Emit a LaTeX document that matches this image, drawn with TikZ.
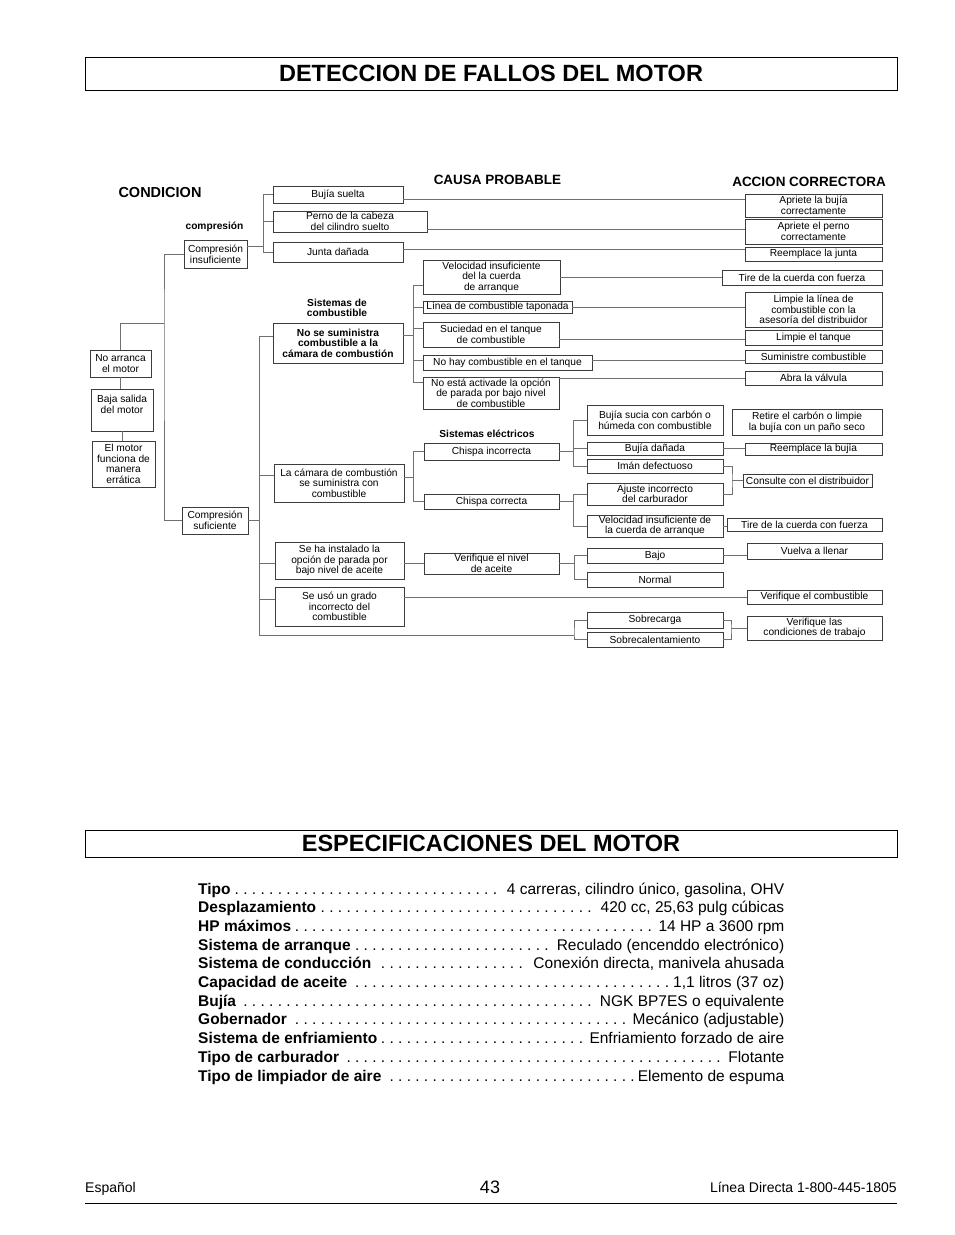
\documentclass[tikz,border=0pt]{standalone}
\usepackage{fontspec}
\setmainfont{Liberation Sans}
\definecolor{BoxLine}{HTML}{3C3C3C}
\definecolor{LinkGray}{HTML}{707070}
\newcommand{\chartfont}{\fontsize{10.2}{10.6}\selectfont}
\newcommand{\specdots}{\leaders\hbox to 8.6pt{\hss.\hss}\hfill}
\tikzset{
  cbox/.style={draw=BoxLine, line width=0.8pt, fill=white, align=center, inner sep=1pt, font=\chartfont},
  boldbox/.style={cbox, font=\chartfont\bfseries},
  link/.style={draw=LinkGray, line width=0.8pt},
  colhead/.style={font=\fontsize{13.5}{16}\selectfont\bfseries},
  grouplabel/.style={font=\chartfont\bfseries, align=center},
  titlebox/.style={draw=black, line width=1pt, minimum width=812, inner sep=0pt, font=\fontsize{23.5}{28}\selectfont\bfseries},
  specline/.style={anchor=base west, inner sep=0pt, font=\fontsize{15.5}{18.7}\selectfont},
  footer/.style={inner sep=0pt, font=\fontsize{14}{16}\selectfont}
}

\begin{document}
\begin{tikzpicture}[x=1pt,y=-1pt]
\path[use as bounding box, fill=white] (0,0) rectangle (954,1235);

% titulos
\node[titlebox, minimum height=33] (title) at (491,73.5) {DETECCION DE FALLOS DEL MOTOR};
\node[titlebox, minimum height=27] (spectitle) at (491,843.5) {ESPECIFICACIONES DEL MOTOR};

% encabezados de columna
\node[colhead, font=\fontsize{14.5}{17}\selectfont\bfseries] (hcond) at (160,193) {CONDICION};
\node[colhead] (hcausa) at (497.5,180) {CAUSA PROBABLE};
\node[colhead] (haccion) at (809,182) {ACCION CORRECTORA};
\node[grouplabel] (lcomp) at (214.5,227) {compresión};
\node[grouplabel] (lfuel) at (337,308) {Sistemas de\\combustible};
\node[grouplabel] (lelec) at (487,434) {Sistemas eléctricos};

% condiciones
\node[cbox, minimum width=61, minimum height=27] (noarr) at (120.5,363.5) {No arranca\\el motor};
\node[cbox, minimum width=62, minimum height=42,
  label={[font=\chartfont, align=center, anchor=north, yshift=-3pt]north:{Baja salida\\del motor}}] (baja) at (122,410) {};
\node[cbox, minimum width=63, minimum height=46] (errat) at (123.5,464) {El motor\\funciona de\\manera\\errática};
\node[cbox, minimum width=63, minimum height=28] (cins) at (215.5,254) {Compresión\\insuficiente};
\node[cbox, minimum width=66, minimum height=27] (csuf) at (215,520.5) {Compresión\\suficiente};

% causas, primer nivel
\node[cbox, minimum width=130, minimum height=17] (bujia) at (338,194.5) {Bujía suelta};
\node[cbox, minimum width=154, minimum height=21] (perno) at (350,221.5) {Perno de la cabeza\\del cilindro suelto};
\node[cbox, minimum width=130, minimum height=20] (junta) at (338,252) {Junta dañada};
\node[boldbox, minimum width=130, minimum height=40] (nosum) at (338,343) {No se suministra\\combustible a la\\cámara de combustión};
\node[cbox, minimum width=130, minimum height=38] (camara) at (339,483) {La cámara de combustión\\se suministra con\\combustible};
\node[cbox, minimum width=129, minimum height=37] (instal) at (339.5,560.5) {Se ha instalado la\\opción de parada por\\bajo nivel de aceite};
\node[cbox, minimum width=129, minimum height=39] (grado) at (339.5,606.5) {Se usó un grado\\incorrecto del\\combustible};

% causas, segundo nivel
\node[cbox, minimum width=137, minimum height=34] (veloc) at (491.5,277) {Velocidad insuficiente\\del la cuerda\\de arranque};
\node[cbox, minimum width=149, minimum height=12, inner ysep=0pt] (linea) at (497.5,307) {Línea de combustible taponada};
\node[cbox, minimum width=136, minimum height=25] (sucied) at (491,334.5) {Suciedad en el tanque\\de combustible};
\node[cbox, minimum width=169, minimum height=15] (nohay) at (507.5,362.5) {No hay combustible en el tanque};
\node[cbox, minimum width=136, minimum height=32] (noact) at (491,393) {No está activade la opción\\de parada por bajo nivel\\de combustible};
\node[cbox, minimum width=135, minimum height=17] (chinc) at (491.5,451.5) {Chispa incorrecta};
\node[cbox, minimum width=135, minimum height=15] (chcor) at (491.5,501.5) {Chispa correcta};
\node[cbox, minimum width=135, minimum height=21] (vernivel) at (491.5,563.5) {Verifique el nivel\\de aceite};

% causas, tercer nivel
\node[cbox, minimum width=136, minimum height=30] (sucia) at (655,420) {Bujía sucia con carbón o\\húmeda con combustible};
\node[cbox, minimum width=136, minimum height=13] (danada) at (655,448.5) {Bujía dañada};
\node[cbox, minimum width=136, minimum height=14] (iman) at (655,466) {Imán defectuoso};
\node[cbox, minimum width=136, minimum height=22] (ajuste) at (655,494) {Ajuste incorrecto\\del carburador};
\node[cbox, minimum width=136, minimum height=22] (velcu) at (655,526) {Velocidad insuficiente de\\la cuerda de arranque};
\node[cbox, minimum width=136, minimum height=15] (bajo) at (655,555.5) {Bajo};
\node[cbox, minimum width=136, minimum height=15] (normal) at (655,579.5) {Normal};
\node[cbox, minimum width=136, minimum height=16] (sobrec) at (655,620) {Sobrecarga};
\node[cbox, minimum width=136, minimum height=15] (sobrecal) at (655,639.5) {Sobrecalentamiento};

% acciones correctoras
\node[cbox, minimum width=137, minimum height=23] (a1) at (813.5,205.5) {Apriete la bujía\\correctamente};
\node[cbox, minimum width=137, minimum height=25] (a2) at (813.5,231.5) {Apriete el perno\\correctamente};
\node[cbox, minimum width=137, minimum height=14] (a3) at (813.5,254) {Reemplace la junta};
\node[cbox, minimum width=160, minimum height=15] (a4) at (802,277.5) {Tire de la cuerda con fuerza};
\node[cbox, minimum width=137, minimum height=35] (a5) at (813.5,309.5) {Limpie la línea de\\combustible con la\\asesoría del distribuidor};
\node[cbox, minimum width=137, minimum height=15] (a6) at (813.5,337.5) {Limpie el tanque};
\node[cbox, minimum width=137, minimum height=13] (a7) at (813.5,356.5) {Suministre combustible};
\node[cbox, minimum width=137, minimum height=14] (a8) at (813.5,378) {Abra la válvula};
\node[cbox, minimum width=150, minimum height=26] (a9) at (807,422) {Retire el carbón o limpie\\la bujía con un paño seco};
\node[cbox, minimum width=137, minimum height=12] (a10) at (813.5,449) {Reemplace la bujía};
\node[cbox, minimum width=129, minimum height=13] (a11) at (807.5,480.5) {Consulte con el distribuidor};
\node[cbox, minimum width=155, minimum height=13] (a12) at (804.5,524.5) {Tire de la cuerda con fuerza};
\node[cbox, minimum width=135, minimum height=16] (a13) at (814.5,551) {Vuelva a llenar};
\node[cbox, minimum width=135, minimum height=14] (a14) at (814.5,597) {Verifique el combustible};
\node[cbox, minimum width=135, minimum height=24] (a15) at (814.5,628) {Verifique las\\condiciones de trabajo};

% ramas de condicion
\coordinate (ta) at (164,323);
\draw[link] (cins.west) -| (ta) |- (csuf.west);
\draw[link] (ta) -| (noarr.north);
\draw[link] (noarr.south) -- (noarr.south |- baja.north);
\draw[link] (baja.south) -- (baja.south |- errat.north);

% compresion insuficiente
\coordinate (tb) at (263,246);
\draw[link] (cins.east |- tb) -- (tb);
\draw[link] (bujia.west) -| (tb);
\draw[link] (perno.west) -| (tb);
\draw[link] (junta.west) -| (tb);
\draw[link] ([yshift=-4.5pt]bujia.east) -- ([yshift=-4.5pt]bujia.east -| a1.west);
\draw[link] ([yshift=-7.5pt]perno.east) -- ([yshift=-7.5pt]perno.east -| a2.west);
\draw[link] ([yshift=2.5pt]junta.east) -- ([yshift=2.5pt]junta.east -| a3.west);

% compresion suficiente
\coordinate (tc) at (csuf.east -| 259,0);
\draw[link] (csuf.east) -- (tc);
\draw[link] ([yshift=7pt]nosum.west) -| (tc);
\draw[link] ([yshift=8pt]camara.west) -| (tc);
\draw[link] ([yshift=-2.5pt]instal.west) -| (tc);
\draw[link] ([yshift=7.5pt]grado.west) -| (tc);
\coordinate (ts) at (574,635);
\draw[link] (tc) |- (ts);
\draw[link] (sobrec.west) -| (ts) |- (sobrecal.west);
\coordinate (tsr) at (a15.west -| 731,0);
\draw[link] (sobrec.east) -| (tsr) |- (sobrecal.east);
\draw[link] (tsr) -- (a15.west);

% sistemas de combustible
\coordinate (td) at (413,335);
\draw[link] (nosum.east |- td) -- (td);
\draw[link] ([yshift=-8pt]veloc.west) -| (td);
\draw[link] (linea.west) -| (td);
\draw[link] ([yshift=6pt]sucied.west) -| (td);
\draw[link] ([yshift=2pt]nohay.west) -| (td);
\draw[link] ([yshift=11pt]noact.west) -| (td);
\draw[link] (veloc.east) -- (veloc.east -| a4.west);
\draw[link] (linea.east) -- (linea.east -| a5.west);
\draw[link] ([yshift=-5pt]sucied.east) -- ([yshift=-5pt]sucied.east -| a6.west);
\draw[link] ([yshift=2pt]nohay.east) -- ([yshift=2pt]nohay.east -| a7.west);
\draw[link] (noact.east |- a8.west) -- (a8.west);

% sistemas electricos
\coordinate (te) at (413,477);
\draw[link] ([yshift=6pt]camara.east) -- (te);
\draw[link] (chinc.west) -| (te);
\draw[link] (chcor.west) -| (te);
\coordinate (tf) at (chinc.east -| 573,0);
\draw[link] (chinc.east) -- (tf);
\draw[link] (sucia.west) -| (tf);
\draw[link] (danada.west) -| (tf);
\draw[link] (iman.west) -| (tf);
\coordinate (tg) at (chcor.east -| 573,0);
\draw[link] (chcor.east) -- (tg);
\draw[link] (ajuste.west) -| (tg);
\draw[link] (velcu.west) -| (tg);
\draw[link] (danada.east) -- (danada.east -| a10.west);
\coordinate (th) at (a11.west -| 732,0);
\draw[link] (iman.east) -| (th) |- (ajuste.east);
\draw[link] (th) -- (a11.west);
\draw[link] (velcu.east) -- (velcu.east -| a12.west);

% aceite y combustible
\draw[link] (instal.east |- vernivel.west) -- (vernivel.west);
\coordinate (tk) at (vernivel.east -| 574,0);
\draw[link] (vernivel.east) -- (tk);
\draw[link] (bajo.west) -| (tk);
\draw[link] (normal.west) -| (tk);
\draw[link] (bajo.east) -- (bajo.east -| a13.west);
\draw[link] (grado.east |- a14.west) -- (a14.west);

% especificaciones
\foreach \lab/\val [count=\i] in {
  Tipo/{4 carreras, cilindro único, gasolina, OHV},
  Desplazamiento/{420 cc, 25,63 pulg cúbicas},
  HP máximos/{14 HP a 3600 rpm},
  Sistema de arranque/{Reculado (encenddo electrónico)},
  Sistema de conducción/{Conexión directa, manivela ahusada},
  Capacidad de aceite/{1,1 litros (37 oz)},
  Bujía/{NGK BP7ES o equivalente},
  Gobernador/{Mecánico (adjustable)},
  Sistema de enfriamiento/{Enfriamiento forzado de aire},
  Tipo de carburador/{Flotante},
  Tipo de limpiador de aire/{Elemento de espuma}}
{
  \node[specline] (spec\i) at (198,{894+18.7*(\i-1)}) {\makebox[586pt]{\textbf{\lab}\specdots\val}};
}

% pie de pagina
\node[footer, anchor=base west] (lang) at (85,1192) {Español};
\node[footer, anchor=base, font=\fontsize{18}{20}\selectfont] (page) at (490,1193) {43};
\node[footer, anchor=base east] (hotline) at (897,1192) {Línea Directa 1-800-445-1805};
\draw[line width=1pt] (85,1203) -- (897,1203);
\end{tikzpicture}
\end{document}
